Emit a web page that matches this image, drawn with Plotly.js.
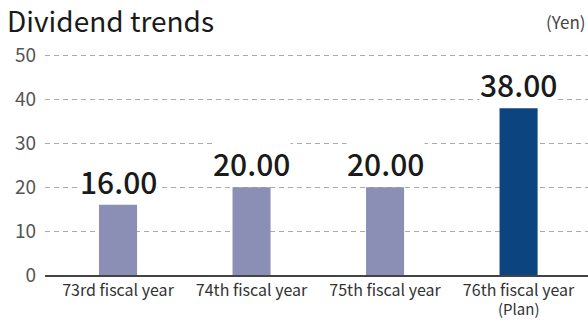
<!DOCTYPE html>
<html><head><meta charset="utf-8">
<script src="https://cdn.plot.ly/plotly-3.0.1.min.js"></script>
<style>html,body{margin:0;padding:0;background:#fff}#c{width:588px;height:322px}</style>
</head><body><div id="c"></div>
<script>
const categories = ["73rd fiscal year", "74th fiscal year", "75th fiscal year", "76th fiscal year"];
const categoryNotes = ["", "", "", "(Plan)"];
const dividends = [16.00, 20.00, 20.00, 38.00];
const barColors = ["#8b8fb6", "#8b8fb6", "#8b8fb6", "#0b447f"];
const yTicks = [0, 10, 20, 30, 40, 50];

const F = '"Noto Sans CJK JP", "Noto Sans", sans-serif';
const trace = {
  type: 'bar', x: categories, y: dividends,
  marker: {color: barColors}, width: 0.285, hoverinfo: 'none'
};
const annotations = categories.map((c, i) => ({
  x: c, y: dividends[i], xref: 'x', yref: 'y', yanchor: 'bottom',
  text: dividends[i].toFixed(2), showarrow: false, yshift: 1,
  bgcolor: 'rgba(255,255,255,1)', borderpad: 0,
  font: {family: F, size: 30, color: '#1a1a1a', weight: 500}
}));
categories.forEach((c, i) => {
  if (categoryNotes[i]) annotations.push({x: c, xref: 'x', yref: 'paper', y: -0.152, yanchor: 'middle',
    text: categoryNotes[i], showarrow: false, borderpad: 0, font: {family: F, size: 15, color: '#333'}});
});
annotations.push({xref: 'paper', yref: 'paper', x: 1, y: 1.14, xanchor: 'right', yanchor: 'middle',
  text: '(Yen)', showarrow: false, font: {family: F, size: 17, color: '#444'}});
const layout = {
  width: 588, height: 322,
  margin: {l: 45, r: 0, t: 53, b: 47},
  paper_bgcolor: '#fff', plot_bgcolor: '#fff',
  showlegend: false,
  title: {text: 'Dividend trends', x: 0.012, xanchor: 'left', y: 0.932, yanchor: 'middle',
    font: {family: F, size: 28, color: '#1a1a1a'}},
  xaxis: {range: [-0.547, 3.52], showgrid: false, ticks: '', showline: true, linecolor: '#444', linewidth: 1.5,
    tickfont: {family: F, size: 16, color: '#333'}, fixedrange: true},
  yaxis: {range: [0, 50.6], tickvals: yTicks, ticktext: yTicks.map(String), showgrid: true,
    gridcolor: '#aaa', griddash: '5px,4px', gridwidth: 1, zeroline: false, ticks: '', ticklabelstandoff: 8,
    tickfont: {family: F, size: 19, color: '#555'}, fixedrange: true},
  annotations: annotations
};
Plotly.newPlot('c', [trace], layout, {displayModeBar: false, staticPlot: true});
</script></body></html>
